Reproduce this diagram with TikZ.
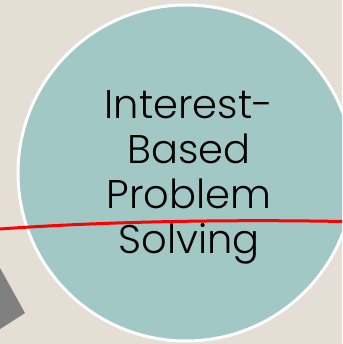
\documentclass[tikz,border=0pt]{standalone}
\usepackage{fontspec}
\IfFontExistsTF{Poppins Light}{\setmainfont{Poppins Light}}{\setmainfont{Poppins}}
\usetikzlibrary{positioning}
\definecolor{sand}{HTML}{E4DED4}
\definecolor{circlefill}{HTML}{A2C8C6}
\definecolor{slab}{HTML}{808080}

\begin{document}
\begin{tikzpicture}[x=1pt, y=-1pt, every node/.style={font=\fontsize{40}{45}\selectfont}]
    % Define styles for the circle, the label and the red line
    \tikzstyle{bubble} = [draw=white, fill=circlefill, circle, line width=3pt, minimum size=336pt, inner sep=0pt]
    \tikzstyle{title} = [align=center, text=black, inner sep=0pt]
    \tikzstyle{redline} = [draw=red, line width=3pt]

    % Background and frame
    \useasboundingbox (0,0) rectangle (342,344);
    \clip (0,0) rectangle (342,344);
    \fill[sand] (0,0) rectangle (342,344);

    % Gray slab at the lower left
    \fill[slab] (25,313) -- ++(-50,-90) -- ++(-70,45) -- ++(50,90) -- cycle;

    % Nodes placement
    \node [bubble] (circle) at (186,173) {};
    \node [title] (label) at (189,177) {Interest-\\Based\\Problem\\Solving};

    % Red line across the picture
    \coordinate (lstart) at (0,229);
    \coordinate (lend) at (342,221.5);
    \draw[redline] (lstart) .. controls (110,221) and (240,219.5) .. (lend);
\end{tikzpicture}
\end{document}
